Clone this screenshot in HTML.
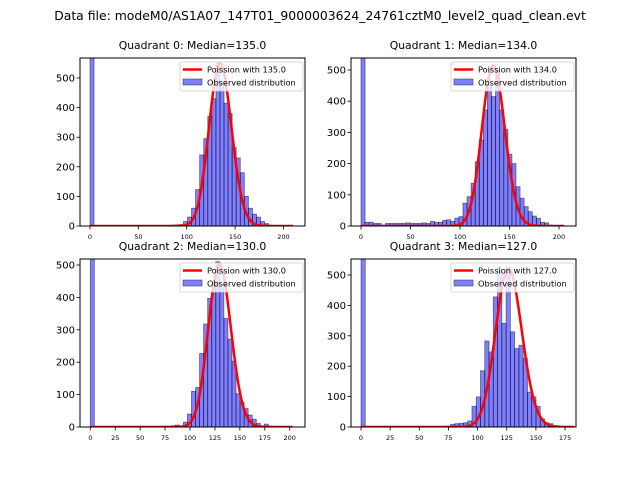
<!DOCTYPE html>
<html><head><meta charset="utf-8"><style>
html,body{margin:0;padding:0;background:#fff;}
svg{display:block;font-family:"DejaVu Sans","Liberation Sans",sans-serif;}
</style></head><body>
<svg id="fig" width="640" height="480" viewBox="0 0 640 480" xmlns="http://www.w3.org/2000/svg">
<rect width="640" height="480" fill="#fff"/>
<text x="320" y="20" font-size="12.4" text-anchor="middle">Data file: modeM0/AS1A07_147T01_9000003624_24761cztM0_level2_quad_clean.evt</text>
</svg>
<script>
// ---- data ----
const quadrantNames = ["Quadrant 0","Quadrant 1","Quadrant 2","Quadrant 3"];
const medians = [135.0, 134.0, 130.0, 127.0];
const binWidths = [4.2, 4.12, 4.06, 3.66];
const q0Counts = [2000,0,0,0,0,0,0,0,0,0,0,0,0,0,0,0,0,0,0,0,3,4,5,15,30,60,123,240,295,370,430,550,490,415,380,265,230,180,100,60,40,30,15,8,3,1,0,0,0,0];
const q1Counts = [2000,12,12,8,8,3,8,8,8,8,8,10,8,8,8,10,8,15,12,12,18,20,15,25,30,73,94,137,206,276,372,447,415,500,372,310,230,200,126,89,62,46,32,25,12,10,3,2,1,0];
const q2Counts = [2000,0,0,0,0,0,0,0,0,0,0,0,0,0,0,0,0,0,3,0,4,6,3,15,40,110,122,227,318,397,443,510,433,335,271,203,103,76,57,37,24,11,3,9,3,1,0,0,0,0];
const q3Counts = [2000,0,0,0,0,0,0,0,0,0,0,0,0,0,0,0,0,0,1,2,3,9,11,12,14,20,68,99,185,283,247,428,525,341,525,313,258,269,225,115,99,68,27,14,11,5,2,1,1,0];
const curvePeaks = [550, 515, 500, 520];
const curveXMax = [210, 205, 203, 183];
const yTicks = [0,100,200,300,400,500];
const xTicksA = [0,50,100,150,200];
const xTicksB = [0,25,50,75,100,125,150,175,200];
const xTicksC = [0,25,50,75,100,125,150,175];
const xTickSets = [xTicksA, xTicksA, xTicksB, xTicksC];
const countSets = [q0Counts, q1Counts, q2Counts, q3Counts];
// layout (not data)
const boxes = [
 {L:80,R:305,T:58,B:226,x0:90,xs:0.967,ys:0.296},
 {L:351,R:576,T:58,B:226,x0:361,xs:0.99,ys:0.312},
 {L:80,R:305,T:259,B:427,x0:90.3,xs:0.997,ys:0.324},
 {L:351,R:576,T:259,B:427,x0:361,xs:1.166,ys:0.304}
];
const NS="http://www.w3.org/2000/svg";
const svg=document.getElementById('fig');
function mk(tag,attrs,parent){const e=document.createElementNS(NS,tag);for(const k in attrs)e.setAttribute(k,attrs[k]);(parent||svg).appendChild(e);return e;}
function lgamma(z){
  if(z<7){let p=1;while(z<7){p*=z;z+=1;}return lg(z)-Math.log(p);} return lg(z);
  function lg(x){return (x-0.5)*Math.log(x)-x+0.5*Math.log(2*Math.PI)+1/(12*x)-1/(360*x*x*x);}
}
function logPois(x,l){return x*Math.log(l)-l-lgamma(x+1);}
for(let q=0;q<4;q++){
  const b=boxes[q];
  const g=mk('g',{},svg);
  
  
  const X=v=>b.x0+v*b.xs, Y=v=>b.B-v*b.ys;
  const cid='clip'+q;
  const cp=mk('clipPath',{id:cid},g);mk('rect',{x:b.L,y:b.T,width:b.R-b.L,height:b.B-b.T},cp);
  const plot=mk('g',{'clip-path':'url(#'+cid+')'},g);
  const counts=countSets[q], w=binWidths[q];
  counts.forEach((c,i)=>{
    if(c<=0)return;
    const r=mk('rect',{x:X(i*w),y:Y(c),width:w*b.xs,height:c*b.ys,fill:'rgba(0,0,255,0.5)',stroke:'rgba(0,0,0,0.5)','stroke-width':0.8},plot);
    
    
  });
  const lam=medians[q], peak=curvePeaks[q], lp=logPois(lam,lam);
  let d='';
  for(let x=0;x<=curveXMax[q];x+=0.5){const v=peak*Math.exp(logPois(x,lam)-lp);d+=(x?'L':'M')+X(x).toFixed(2)+','+Y(v).toFixed(2);}
  const pl=mk('path',{d:d,fill:'none',stroke:'#ff0000','stroke-width':2.5},plot);
  
  
  mk('rect',{x:b.L,y:b.T,width:b.R-b.L,height:b.B-b.T,fill:'none',stroke:'#000','stroke-width':1},g);
  yTicks.forEach(t=>{
    const y=Y(t);if(y<b.T)return;
    mk('line',{x1:b.L-3.5,x2:b.L,y1:y,y2:y,stroke:'#000','stroke-width':0.8},g);
    const tx=mk('text',{x:b.L-5,y:y+3.5,'font-size':10,'text-anchor':'end'},g);tx.textContent=t;
    
    
  });
  xTickSets[q].forEach(t=>{
    const x=X(t);
    mk('line',{x1:x,x2:x,y1:b.B,y2:b.B+3.5,stroke:'#000','stroke-width':0.8},g);
    const tx=mk('text',{x:x,y:b.B+13,'font-size':6.5,'text-anchor':'middle'},g);tx.textContent=t;
    
    
  });
  const tt=mk('text',{x:(b.L+b.R)/2,y:b.T-9,'font-size':10.8,'text-anchor':'middle'},g);
  tt.textContent=quadrantNames[q]+': Median='+medians[q].toFixed(1);
  
  
  const lg=mk('g',{},g);
  
  
  const lx=b.R-125, ly=b.T+4;
  mk('rect',{x:lx,y:ly,width:123,height:29,rx:2,fill:'rgba(255,255,255,0.8)',stroke:'#ccc','stroke-width':0.8},lg);
  mk('line',{x1:lx+3,x2:lx+22,y1:ly+7.5,y2:ly+7.5,stroke:'#ff0000','stroke-width':2.5},lg);
  const t1=mk('text',{x:lx+27,y:ly+10.5,'font-size':8.2},lg);t1.textContent='Poission with '+medians[q].toFixed(1);
  
  
  mk('rect',{x:lx+3,y:ly+17,width:19,height:6,fill:'rgba(0,0,255,0.5)',stroke:'rgba(0,0,0,0.5)','stroke-width':0.8},lg);
  const t2=mk('text',{x:lx+27,y:ly+23.5,'font-size':8.2},lg);t2.textContent='Observed distribution';
  
  
}
</script>
</body></html>
